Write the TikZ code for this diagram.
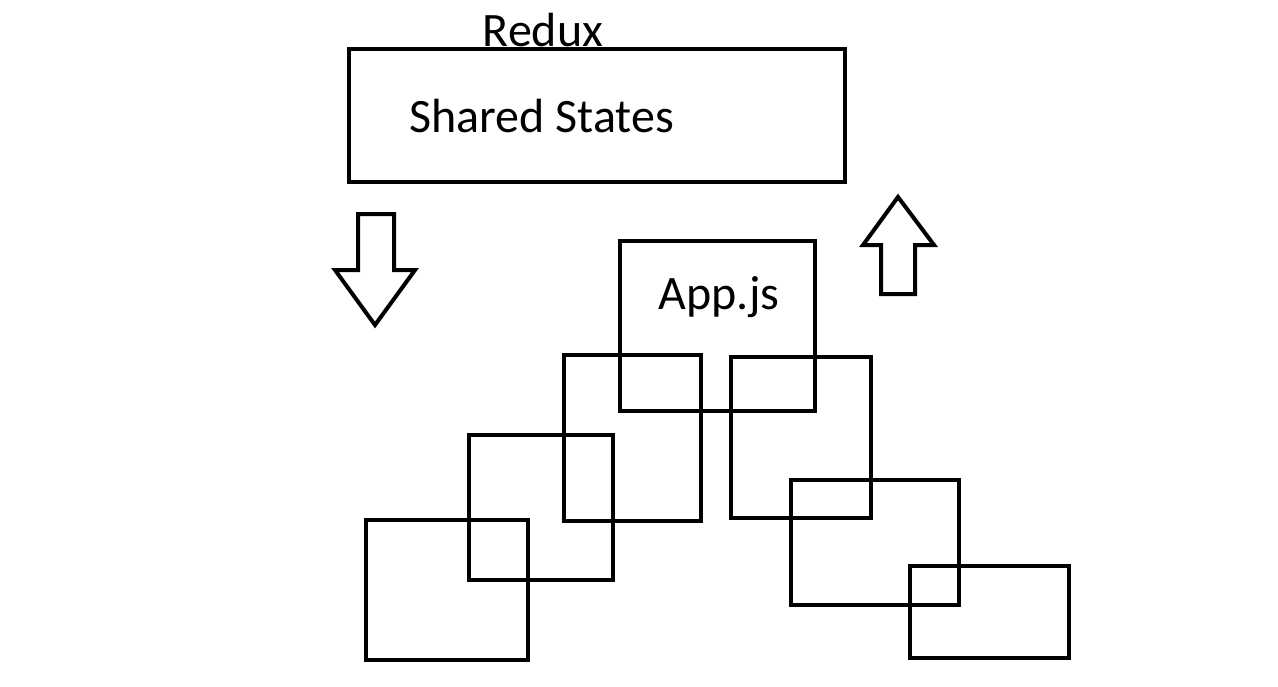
\documentclass[tikz,border=0pt]{standalone}
\usepackage{fontspec}
\setmainfont{Carlito}
\tikzset{
  blk/.style={draw, line width=4.5pt, inner sep=0pt, minimum width=#1},
  lbl/.style={inner sep=0pt, font=\fontsize{48}{58}\selectfont},
  fatarrow/.style={line width=4pt, line join=miter}
}
\begin{document}
\begin{tikzpicture}[x=1pt, y=-1pt]
    \useasboundingbox (0, 0) rectangle (1278, 686);
        % store
        \node[blk=496pt, minimum height=133pt] (shared) at (597, 115.5) {};
        \node[lbl, anchor=base] (redux) at (543, 46) {Redux};
        \node[lbl, anchor=base west] (states) at (409, 132) {Shared States};
        % components
        \node[blk=195pt, minimum height=170pt] (app) at (717.5, 326) {};
        \node[lbl, anchor=base] (appname) at (719, 309) {App.js};
        \node[blk=137pt, minimum height=166pt] (c1) at (632.5, 438) {};
        \node[blk=140pt, minimum height=161pt] (c2) at (801, 437.5) {};
        \node[blk=144pt, minimum height=145pt] (c3) at (541, 507.5) {};
        \node[blk=162pt, minimum height=140pt] (c4) at (447, 590) {};
        \node[blk=168pt, minimum height=125pt] (c5) at (875, 542.5) {};
        \node[blk=159pt, minimum height=92pt] (c6) at (989.5, 612) {};
        % arrows
        \draw[fatarrow] (358, 214) -- (394, 214) -- (394, 270) -- (415, 270)
            -- (375, 325) -- (335, 270) -- (358, 270) -- cycle;
        \draw[fatarrow] (881, 294) -- (915, 294) -- (915, 245) -- (934, 245)
            -- (898, 197) -- (863, 245) -- (881, 245) -- cycle;
    \end{tikzpicture}
\end{document}
